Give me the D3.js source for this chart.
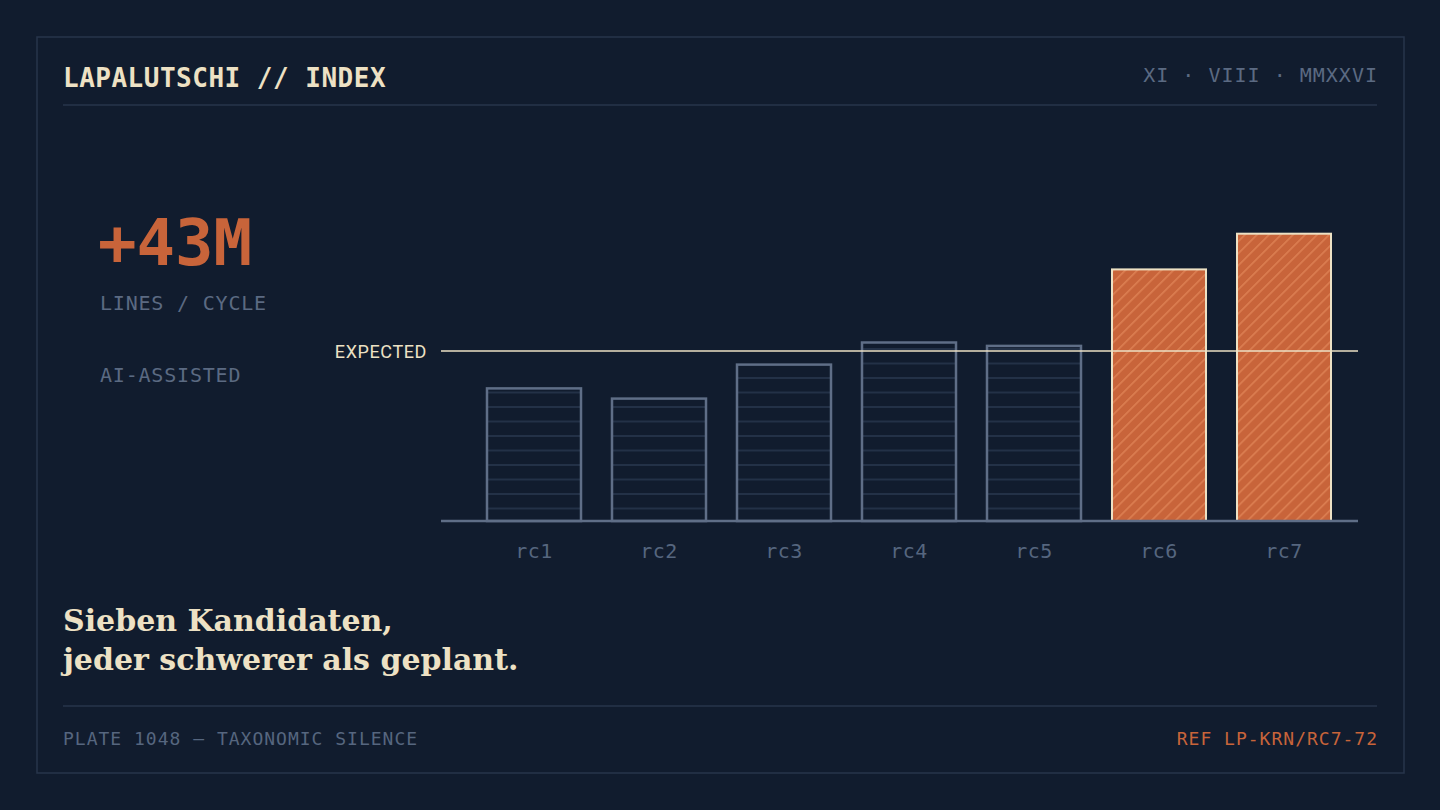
<!DOCTYPE html>
<html><head><meta charset="utf-8">
<script src="https://cdn.jsdelivr.net/npm/d3@7"></script>
<style>html,body{margin:0;padding:0;background:#111c2e;}svg{display:block}</style>
</head><body>
<svg id="c" width="1440" height="810"></svg>
<script>
const categories = ["rc1","rc2","rc3","rc4","rc5","rc6","rc7"];
const values = [78, 72, 92, 105, 103, 148, 169];
const highlighted = [false,false,false,false,false,true,true];
const expected = 100;
const yMax = 180;

const C = {bg:"#111c2e", frame:"#27354b", cream:"#ede1c4", grey:"#5b6a82", greyDark:"#56667f",
  barStroke:"#5f6e87", stripe:"#28374e", orange:"#c8643a", hatch:"#dc7f52"};
const mono = "'DejaVu Sans Mono', 'Liberation Mono', monospace";

const svg = d3.select("#c");
svg.append("rect").attr("width",1440).attr("height",810).attr("fill",C.bg);
svg.append("rect").attr("x",37).attr("y",37).attr("width",1367).attr("height",736)
  .attr("fill","none").attr("stroke",C.frame).attr("stroke-width",1.5);

// header
svg.append("text").attr("x",63).attr("y",87).text("LAPALUTSCHI // INDEX")
  .attr("font-family",mono).attr("font-weight","bold").attr("font-size",26).attr("fill",C.cream).attr("letter-spacing",0.5);
svg.append("text").attr("x",1378).attr("y",82).attr("text-anchor","end").text("XI · VIII · MMXXVI")
  .attr("font-family",mono).attr("font-size",20).attr("fill",C.grey).attr("letter-spacing",1);
svg.append("line").attr("x1",63).attr("x2",1377).attr("y1",105).attr("y2",105).attr("stroke",C.frame).attr("stroke-width",1.5);

// KPI
svg.append("text").attr("x",98).attr("y",265).text("+43M")
  .attr("font-family",mono).attr("font-weight","bold").attr("font-size",64).attr("fill",C.orange);
svg.append("text").attr("x",100).attr("y",310).text("LINES / CYCLE")
  .attr("font-family",mono).attr("font-size",20).attr("fill",C.grey).attr("letter-spacing",0.8);
svg.append("text").attr("x",100).attr("y",382).text("AI-ASSISTED")
  .attr("font-family",mono).attr("font-size",20).attr("fill",C.grey).attr("letter-spacing",0.8);

// patterns
const defs = svg.append("defs");
const ps = defs.append("pattern").attr("id","stripes").attr("patternUnits","userSpaceOnUse")
  .attr("x",0).attr("y",1).attr("width",20).attr("height",14.5);
ps.append("rect").attr("width",20).attr("height",14.5).attr("fill",C.bg);
ps.append("rect").attr("y",-0.75).attr("width",20).attr("height",1.5).attr("fill",C.stripe);
ps.append("rect").attr("y",13.75).attr("width",20).attr("height",1.5).attr("fill",C.stripe);
const ph = defs.append("pattern").attr("id","hatch").attr("patternUnits","userSpaceOnUse")
  .attr("width",8.5).attr("height",8.5).attr("patternTransform","rotate(45)");
ph.append("rect").attr("width",8.5).attr("height",8.5).attr("fill",C.orange);
ph.append("rect").attr("x",0).attr("width",1.6).attr("height",8.5).attr("fill",C.hatch);

// chart
const x = d3.scaleBand().domain(categories).range([472,1346]).paddingInner(0.248).paddingOuter(0.12);
const y = d3.scaleLinear().domain([0,yMax]).range([521,215]);

const g = svg.append("g");
g.selectAll("rect.bar").data(categories).join("rect").attr("class","bar")
  .attr("x",d=>x(d)).attr("width",x.bandwidth())
  .attr("y",(d,i)=>y(values[i])).attr("height",(d,i)=>y(0)-y(values[i]))
  .attr("fill",(d,i)=>highlighted[i]?"url(#hatch)":"url(#stripes)")
  .attr("stroke",(d,i)=>highlighted[i]?C.cream:C.barStroke)
  .attr("stroke-width",(d,i)=>highlighted[i]?2:2.5);

// axis
const ax = g.append("g").attr("transform",`translate(0,${y(0)})`)
  .call(d3.axisBottom(x).tickSize(0).tickPadding(23));
ax.select(".domain").attr("stroke",C.barStroke).attr("stroke-width",2.5).attr("d","M441,0H1358");
ax.selectAll("text").attr("font-family",mono).attr("font-size",20).attr("fill",C.greyDark).attr("letter-spacing",0.5);

// expected line
g.append("line").attr("x1",441).attr("x2",1358).attr("y1",y(expected)).attr("y2",y(expected))
  .attr("stroke",C.cream).attr("stroke-width",1.6);
g.append("text").attr("x",427).attr("y",y(expected)+7).attr("text-anchor","end").text("EXPECTED")
  .attr("font-family","Roboto, 'DejaVu Sans', sans-serif").attr("font-size",18).attr("fill",C.cream).attr("letter-spacing",0.6);

// caption
const cap = svg.append("text").attr("font-family","'DejaVu Serif', 'Liberation Serif', serif").attr("font-weight","bold")
  .attr("font-size",30).attr("fill",C.cream);
cap.append("tspan").attr("x",63).attr("y",631).text("Sieben Kandidaten,");
cap.append("tspan").attr("x",63).attr("y",670).text("jeder schwerer als geplant.");

// footer
svg.append("line").attr("x1",63).attr("x2",1377).attr("y1",706).attr("y2",706).attr("stroke",C.frame).attr("stroke-width",1.5);
svg.append("text").attr("x",63).attr("y",745).text("PLATE 1048 — TAXONOMIC SILENCE")
  .attr("font-family",mono).attr("font-size",18).attr("fill",C.greyDark).attr("letter-spacing",1);
svg.append("text").attr("x",1378).attr("y",745).attr("text-anchor","end").text("REF LP-KRN/RC7-72")
  .attr("font-family",mono).attr("font-size",18).attr("fill",C.orange).attr("letter-spacing",1);
</script>
</body></html>
